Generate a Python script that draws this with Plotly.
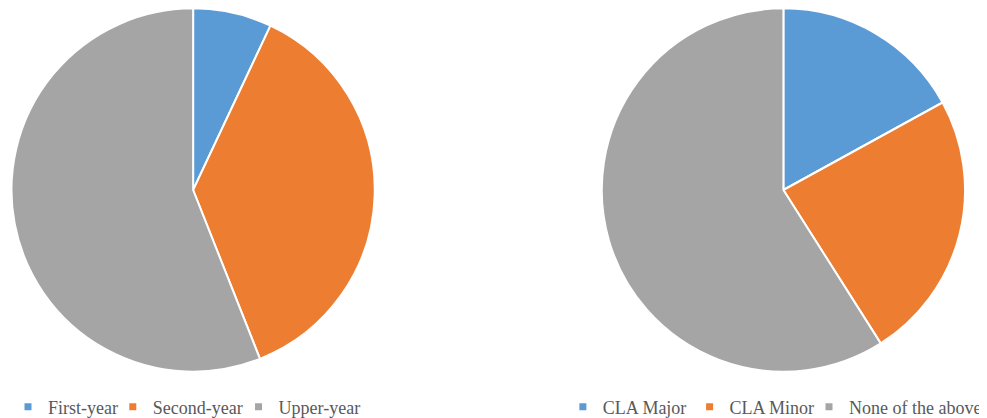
import plotly.graph_objects as go

# Data
year_labels = ["First-year", "Second-year", "Upper-year"]
year_values = [7, 37, 56]
program_labels = ["CLA Major", "CLA Minor", "None of the above"]
program_values = [17, 24, 59]
colors = ["#5B9BD5", "#ED7D31", "#A5A5A5"]

# The page body adds an 8px offset; build the figure in page pixels shifted by it.
OFF = 8
W, H = 987 - OFF, 418

fig = go.Figure()

def dom(cx, cy, r):
    cx, cy = cx - OFF, cy - OFF
    y0 = max(0.0, 1 - (cy + r) / H)
    y1 = min(1.0, 1 - (cy - r) / H)
    return dict(x=[max(0.0, (cx - r) / W), min(1.0, (cx + r) / W)], y=[y0, y1])

fig.add_trace(go.Pie(
    labels=year_labels, values=year_values, sort=False, direction="clockwise",
    rotation=0, textinfo="none", showlegend=False,
    marker=dict(colors=colors, line=dict(color="white", width=2)),
    domain=dom(191.5, 190, 182),
))
fig.add_trace(go.Pie(
    labels=program_labels, values=program_values, sort=False, direction="clockwise",
    rotation=0, textinfo="none", showlegend=False,
    marker=dict(colors=colors, line=dict(color="white", width=2)),
    domain=dom(783, 190, 182),
))

# Legend entries: one legend per item, placed under its pie
text_starts = [44, 149, 275, 600, 727, None]
all_labels = year_labels + program_labels
all_colors = colors + colors
legend_layout = {}
for i, (lab, col, xs) in enumerate(zip(all_labels, all_colors, text_starts)):
    key = "legend" if i == 0 else f"legend{i + 1}"
    fig.add_trace(go.Scatter(x=[None], y=[None], mode="markers", name=lab,
                             marker=dict(symbol="square", size=7, color=col),
                             legend=key, hoverinfo="skip"))
    if xs is None:
        xpos, xanch = 1.0, "right"
    else:
        xpos, xanch = (xs - OFF - 38) / W, "left"
    legend_layout[key] = dict(
        orientation="h",
        x=xpos, xanchor=xanch, y=(H - (407 - OFF)) / H, yanchor="middle",
        font=dict(family="Liberation Serif, Times New Roman, serif", size=18, color="#595959"),
        bgcolor="rgba(0,0,0,0)", borderwidth=0, itemwidth=30, itemclick=False,
    )

fig.update_layout(
    width=W, height=H,
    margin=dict(l=0, r=0, t=0, b=0),
    paper_bgcolor="white", plot_bgcolor="white",
    xaxis=dict(visible=False), yaxis=dict(visible=False),
    showlegend=True,
    **legend_layout,
)

fig.write_html("out.html")
